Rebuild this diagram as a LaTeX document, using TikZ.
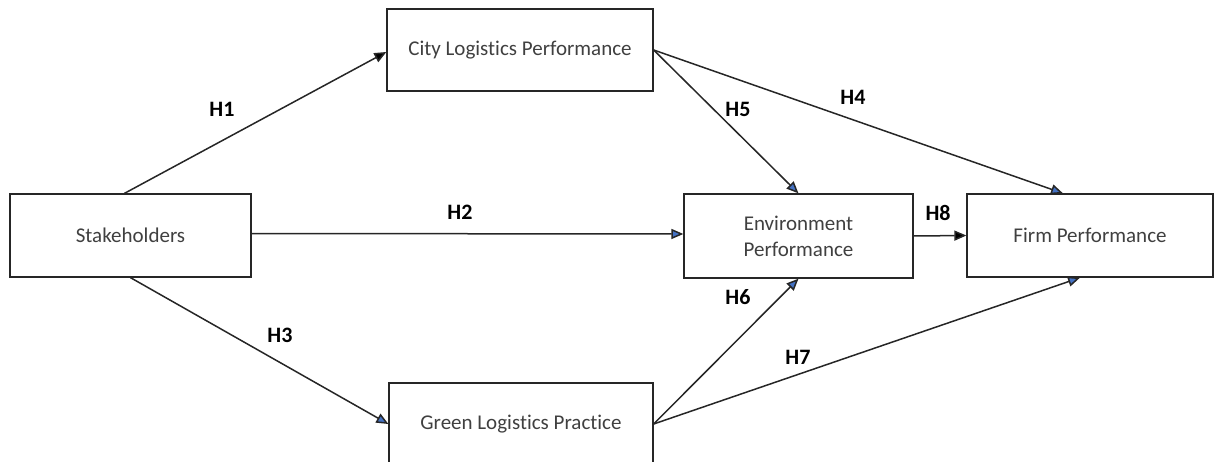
\documentclass[tikz,border=0pt]{standalone}
\usepackage{fontspec}
\setmainfont{Carlito}[RawFeature={-liga}]
\usetikzlibrary{arrows.meta}
\definecolor{tipblue}{RGB}{68,114,196}
\definecolor{boxtext}{RGB}{64,64,64}
\definecolor{linegray}{RGB}{38,38,38}

\tikzset{
  factor/.style={draw=linegray, line width=1.3pt, fill=white, text=boxtext,
    font=\fontsize{21}{26}\selectfont, align=center, inner sep=0pt},
  hyp/.style={font=\bfseries\fontsize{22}{26}\selectfont, text=black},
  path/.style={draw=linegray, line width=1.5pt,
    -{Triangle[length=12pt,width=10pt,fill=tipblue]}},
  direct/.style={draw=linegray, line width=1.5pt,
    -{Triangle[length=12pt,width=10pt,fill=black]}}
}

\begin{document}
\begin{tikzpicture}[x=1pt,y=-1pt]
\useasboundingbox (0,0) rectangle (1222,462);

% constructs
\node[factor, minimum width=266pt, minimum height=82pt] (city) at (520,50) {City Logistics Performance};
\node[factor, minimum width=241pt, minimum height=83pt] (stake) at (130.5,235.5) {Stakeholders};
\node[factor, minimum width=229pt, minimum height=84pt] (env) at (798.5,236) {Environment\\Performance};
\node[factor, minimum width=246pt, minimum height=83pt] (firm) at (1090,235.5) {Firm Performance};
\node[factor, minimum width=264pt, minimum height=82pt] (green) at (521,424) {Green Logistics Practice};

% hypotheses
\draw[direct] ([xshift=-6pt]stake.north) -- ([yshift=-2pt]city.west);
\draw[path] ([yshift=2pt]stake.east) -- ([yshift=2pt]env.west);
\draw[path] (stake.south) -- (green.west);
\draw[path] (city.east) -- ([xshift=-27pt]firm.north);
\draw[path] (city.east) -- (env.north);
\draw[path] (green.east) -- (env.south);
\draw[path] (green.east) -- ([xshift=-10pt]firm.south);
\draw[direct] (env.east) -- (firm.west);

% labels
\node[hyp] (h1) at (222,109) {H1};
\node[hyp] (h2) at (460,212) {H2};
\node[hyp] (h3) at (280,335) {H3};
\node[hyp] (h4) at (853,97) {H4};
\node[hyp] (h5) at (738,109) {H5};
\node[hyp] (h6) at (738,297) {H6};
\node[hyp] (h7) at (798,357) {H7};
\node[hyp] (h8) at (938,213) {H8};
\end{tikzpicture}
\end{document}
